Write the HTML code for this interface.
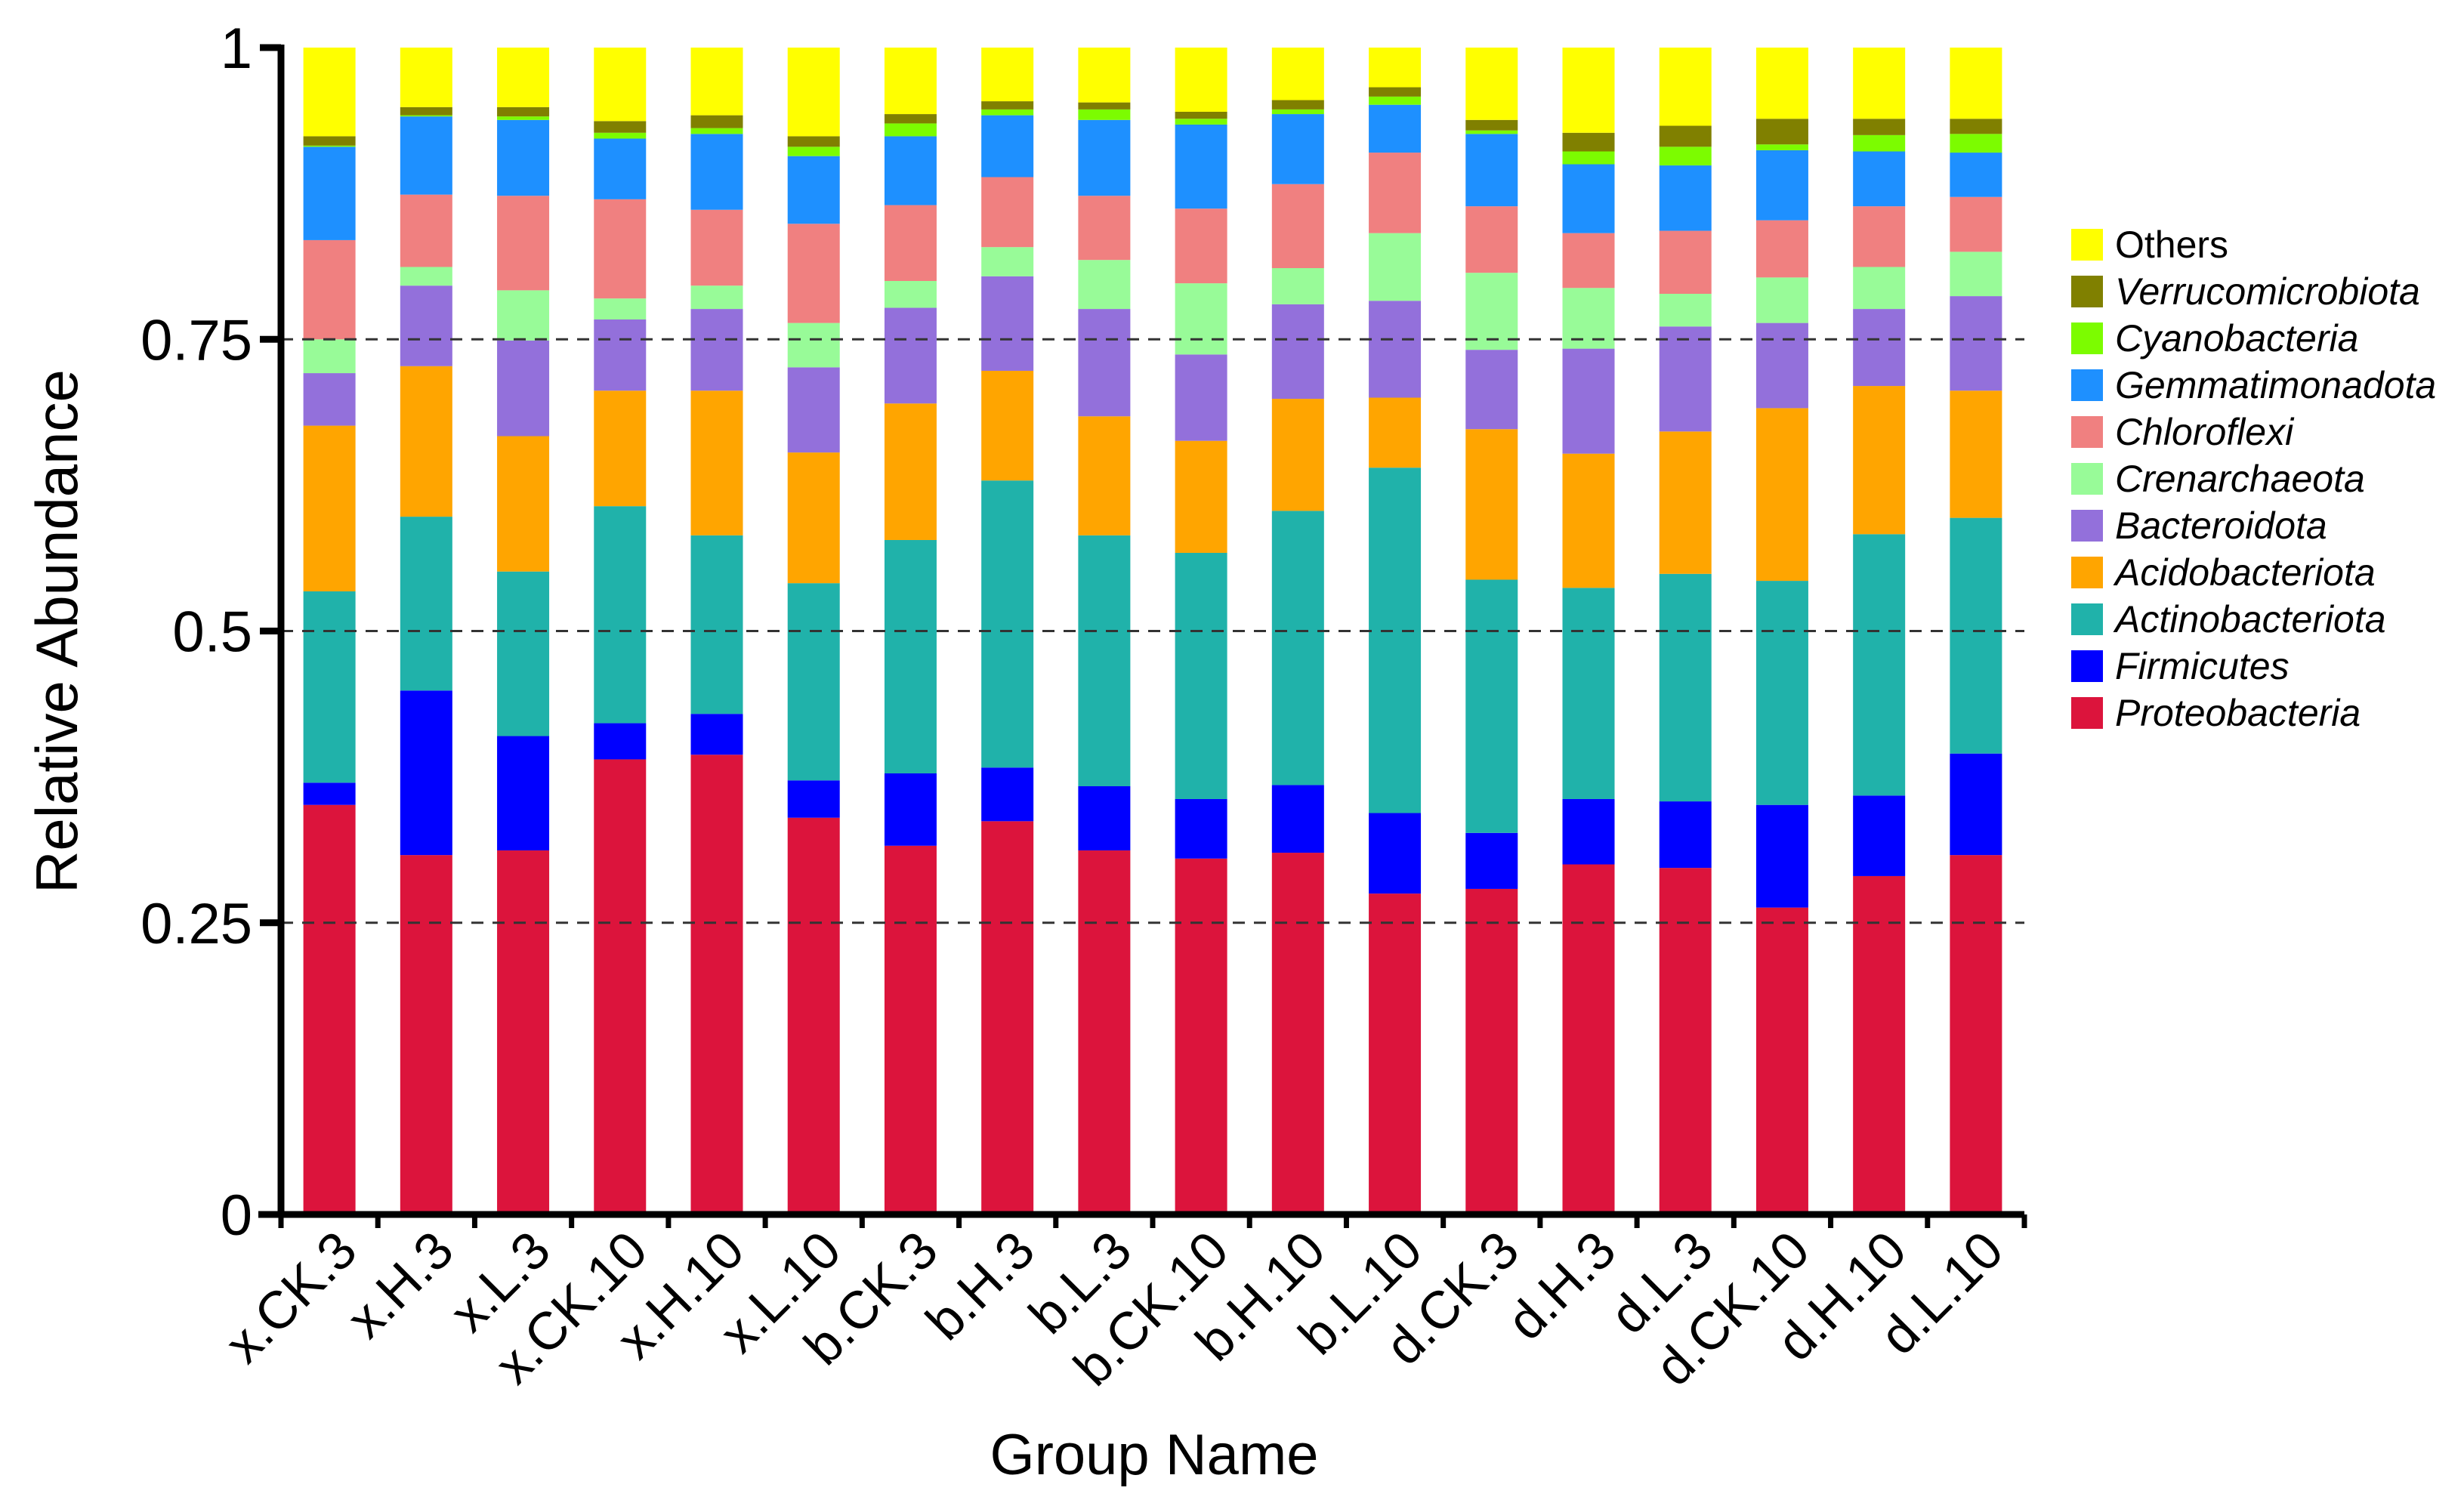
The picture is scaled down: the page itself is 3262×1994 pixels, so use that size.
<!DOCTYPE html>
<html><head><meta charset="utf-8"><style>html,body{margin:0;padding:0;background:#fff}svg{display:block}</style></head>
<body>
<svg id="chart" xmlns="http://www.w3.org/2000/svg" width="3262" height="1994" viewBox="0 0 3262 1994" font-family="Liberation Sans, Arial, sans-serif"></svg>
<script>
const categories = ["x.CK.3","x.H.3","x.L.3","x.CK.10","x.H.10","x.L.10","b.CK.3","b.H.3","b.L.3","b.CK.10","b.H.10","b.L.10","d.CK.3","d.H.3","d.L.3","d.CK.10","d.H.10","d.L.10"];
const seriesNames = ["Proteobacteria","Firmicutes","Actinobacteriota","Acidobacteriota","Bacteroidota","Crenarchaeota","Chloroflexi","Gemmatimonadota","Cyanobacteria","Verrucomicrobiota","Others"];
const seriesColors = ["#dc143c","#0000ff","#20b2aa","#ffa500","#9370db","#98fb98","#f08080","#1e90ff","#7cfc00","#808000","#ffff00"];
const proteobacteria = [.351,.308,.312,.390,.394,.340,.316,.337,.312,.305,.310,.275,.279,.300,.297,.263,.290,.308];
const firmicutes = [.019,.141,.098,.031,.035,.032,.062,.046,.055,.051,.058,.069,.048,.056,.057,.088,.069,.087];
const actinobacteriota = [.164,.149,.141,.186,.153,.169,.200,.246,.215,.211,.235,.296,.217,.181,.195,.192,.224,.202];
const acidobacteriota = [.142,.129,.116,.099,.124,.112,.117,.094,.102,.096,.096,.060,.129,.115,.122,.148,.127,.109];
const bacteroidota = [.045,.069,.082,.061,.070,.073,.082,.081,.092,.074,.081,.083,.068,.090,.090,.073,.066,.081];
const crenarchaeota = [.029,.016,.043,.018,.020,.038,.023,.025,.042,.061,.031,.058,.066,.052,.028,.039,.036,.038];
const chloroflexi = [.085,.062,.081,.085,.065,.085,.065,.060,.055,.064,.072,.069,.057,.047,.054,.049,.052,.047];
const gemmatimonadota = [.080,.067,.065,.052,.065,.058,.059,.053,.065,.072,.060,.041,.062,.059,.056,.060,.047,.038];
const cyanobacteria = [.001,.001,.003,.005,.005,.008,.011,.005,.009,.005,.004,.007,.003,.011,.016,.005,.014,.016];
const verrucomicrobiota = [.008,.007,.008,.010,.011,.009,.008,.007,.006,.006,.008,.008,.009,.016,.018,.022,.014,.013];
const others = [.076,.051,.051,.063,.058,.076,.057,.046,.047,.055,.045,.034,.062,.073,.067,.061,.061,.061];
const seriesValues = [proteobacteria,firmicutes,actinobacteriota,acidobacteriota,bacteroidota,crenarchaeota,chloroflexi,gemmatimonadota,cyanobacteria,verrucomicrobiota,others];
const yTicks = [0,0.25,0.5,0.75,1];
const yTickLabels = ["0","0.25","0.5","0.75","1"];

const NS="http://www.w3.org/2000/svg";
const svg=document.getElementById('chart');
const X0=372, X1=2680, Y0=1608, Y1=63;
const band=(X1-X0)/categories.length, barW=69;
const y=v=>Y0-(Y0-Y1)*v;
const xc=i=>X0+band*(i+0.5);
function mk(tag,attrs,parent){const e=document.createElementNS(NS,tag);for(const k in attrs)e.setAttribute(k,attrs[k]);(parent||svg).appendChild(e);return e;}

categories.forEach((c,i)=>{
  const g=mk('g',{});
  
  
  let cum=0;
  seriesValues.forEach((arr,s)=>{
    const v=arr[i];
    const r=mk('rect',{x:xc(i)-barW/2,y:y(cum+v),width:barW,height:y(cum)-y(cum+v),fill:seriesColors[s]},g);
    
    
    cum+=v;
  });
});
[0.25,0.5,0.75].forEach(v=>{
  const l=mk('line',{x1:X0,x2:X1,y1:y(v),y2:y(v),stroke:'#333',"stroke-width":3,"stroke-dasharray":"16 12"});
  
  
});
const ya=mk('line',{x1:X0,x2:X0,y1:Y1-4,y2:Y0+4,stroke:'#000',"stroke-width":9});


const xa=mk('line',{x1:X0-30,x2:X1,y1:Y0,y2:Y0,stroke:'#000',"stroke-width":9});


yTicks.forEach((v,k)=>{
  const t=mk('line',{x1:X0-28,x2:X0,y1:y(v),y2:y(v),stroke:'#000',"stroke-width":9});
  
  
  const tx=mk('text',{x:X0-38,y:y(v)+27,"text-anchor":"end","font-size":76,fill:'#000'});
  tx.textContent=yTickLabels[k];
  
  
});
for(let i=0;i<=categories.length;i++){
  const t=mk('line',{x1:X0+band*i,x2:X0+band*i,y1:Y0,y2:Y0+18,stroke:'#000',"stroke-width":7});
  
  
}
categories.forEach((c,i)=>{
  const px=xc(i)+40, py=Y0+52;
  const t=mk('text',{x:px,y:py,"text-anchor":"end","font-size":70,transform:`rotate(-45 ${px} ${py})`,fill:'#000'});
  t.textContent=c;
  
  
});
const yt=mk('text',{x:102,y:836,"text-anchor":"middle","font-size":78,transform:'rotate(-90 102 836)'});
yt.textContent='Relative Abundance';


const xt=mk('text',{x:1528,y:1952,"text-anchor":"middle","font-size":76});
xt.textContent='Group Name';


const legendOrder=[10,9,8,7,6,5,4,3,2,1,0];
legendOrder.forEach((s,k)=>{
  const cy=324+k*62;
  const g=mk('g',{});
  
  
  mk('rect',{x:2742,y:cy-21,width:42,height:42,fill:seriesColors[s]},g);
  const t=mk('text',{x:2800,y:cy+17,"font-size":50,"font-style":s===10?'normal':'italic'},g);
  t.textContent=seriesNames[s];
});
</script>
</body></html>
